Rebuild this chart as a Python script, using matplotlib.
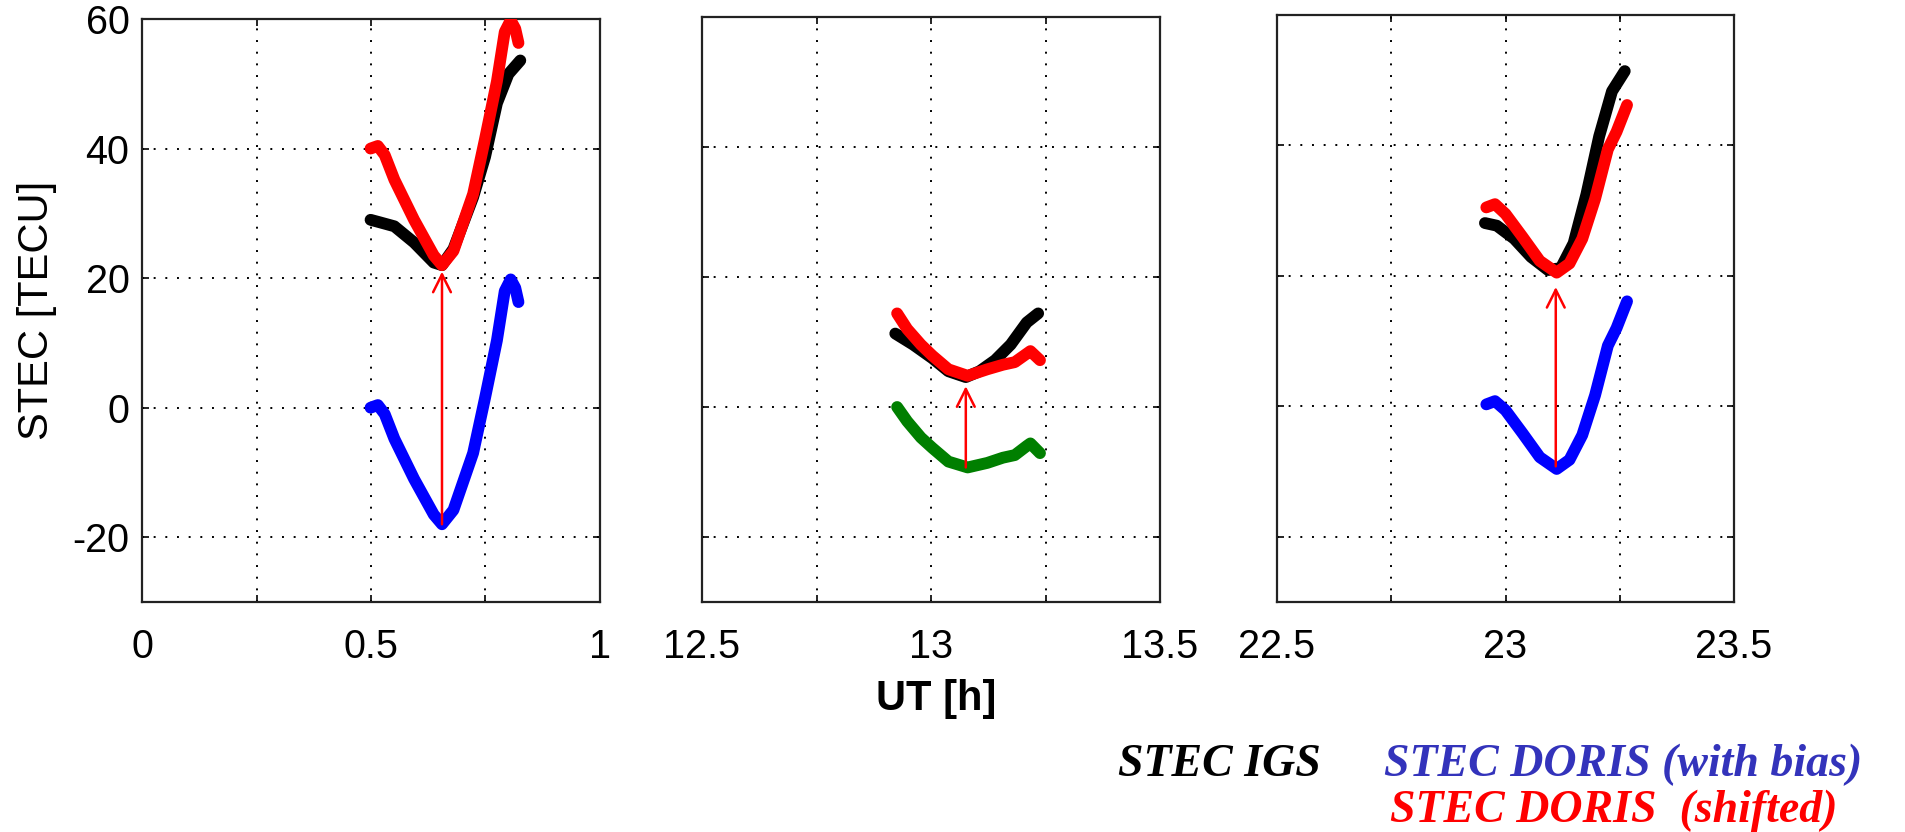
import numpy as np
import matplotlib
matplotlib.use('Agg')
import matplotlib.pyplot as plt

plt.rcParams['font.family'] = ['Liberation Sans', 'DejaVu Sans']

# pass 1: around 0.5 - 0.8 UT
ut1_igs = [0.499, 0.520, 0.551, 0.594, 0.637, 0.655, 0.680, 0.723, 0.749, 0.775, 0.800, 0.826]
stec1_igs = [29.0, 28.6, 28.0, 25.5, 22.4, 22.0, 24.5, 32.5, 38.7, 47.0, 51.5, 53.6]
ut1_doris = [0.499, 0.515, 0.530, 0.551, 0.594, 0.637, 0.655, 0.680, 0.723, 0.749, 0.775, 0.792, 0.805, 0.815, 0.822]
stec1_bias = [0.0, 0.4, -1.0, -4.8, -11.0, -16.5, -18.0, -15.8, -7.0, 1.5, 10.4, 18.0, 19.8, 18.5, 16.3]
stec1_shift = [40.0, 40.4, 39.0, 35.2, 29.0, 23.5, 22.0, 24.2, 33.0, 41.5, 50.4, 58.0, 59.8, 58.5, 56.3]
arrow1 = (0.655, -18.0, 21.0)

# pass 2: around 13 UT
ut2_igs = [12.922, 12.961, 13.003, 13.038, 13.076, 13.106, 13.140, 13.174, 13.209, 13.234]
stec2_igs = [11.3, 9.6, 7.5, 5.5, 4.6, 5.5, 7.2, 9.6, 13.0, 14.4]
ut2_doris = [12.926, 12.948, 12.978, 13.003, 13.038, 13.080, 13.123, 13.157, 13.183, 13.209, 13.217, 13.238]
stec2_bias = [0.0, -2.2, -4.7, -6.3, -8.4, -9.3, -8.6, -7.8, -7.4, -6.0, -5.6, -7.1]
stec2_shift = [14.4, 12.0, 9.6, 7.9, 5.8, 4.8, 5.8, 6.5, 6.9, 8.2, 8.6, 7.2]
arrow2 = (13.076, -9.3, 3.2)

# pass 3: around 23 UT
ut3_igs = [22.955, 22.981, 23.019, 23.056, 23.093, 23.121, 23.149, 23.177, 23.205, 23.233, 23.261]
stec3_igs = [28.1, 27.7, 25.7, 22.9, 20.9, 21.2, 25.0, 32.5, 41.4, 48.3, 51.4]
ut3_doris = [22.958, 22.977, 23.000, 23.037, 23.075, 23.112, 23.140, 23.168, 23.196, 23.224, 23.243, 23.266]
stec3_bias = [0.3, 0.8, -0.6, -4.1, -7.8, -9.6, -8.2, -4.4, 1.7, 9.3, 12.0, 16.1]
stec3_shift = [30.5, 31.0, 29.5, 26.0, 22.3, 20.5, 21.9, 25.7, 31.8, 39.4, 42.1, 46.2]
arrow3 = (23.11, -9.2, 18.3)

xlims = [(0, 1), (12.5, 13.5), (22.5, 23.5)]
xtick_labels = [['0', '', '0.5', '', '1'],
                ['12.5', '', '13', '', '13.5'],
                ['22.5', '', '23', '', '23.5']]
yticks = [-20, 0, 20, 40, 60]

passes = [
    (ut1_igs, stec1_igs, ut1_doris, stec1_bias, stec1_shift, 'blue', arrow1),
    (ut2_igs, stec2_igs, ut2_doris, stec2_bias, stec2_shift, 'green', arrow2),
    (ut3_igs, stec3_igs, ut3_doris, stec3_bias, stec3_shift, 'blue', arrow3),
]

W, H = 1906, 832
fig = plt.figure(figsize=(W / 100, H / 100), dpi=100)

# axes boxes in pixels: left, top, right, bottom
boxes = [(142, 19, 600, 602), (702, 17, 1160, 602), (1277, 15, 1734, 602)]

bias_colors = {'blue': '#0000ff', 'green': '#007f00'}
lw = 8.5

for i, (box, p) in enumerate(zip(boxes, passes)):
    l, t, r, b = box
    ax = fig.add_axes([l / W, (H - b) / H, (r - l) / W, (b - t) / H])
    ut_i, s_i, ut_d, s_b, s_s, bc, arr = p

    style = dict(lw=lw, solid_capstyle='round', solid_joinstyle='round')
    ax.plot(ut_i, s_i, color='black', zorder=3, **style)
    ax.plot(ut_d, s_b, color=bias_colors[bc], zorder=3, **style)
    ax.plot(ut_d, s_s, color='#ff0000', zorder=4, **style)

    xa, y0, y1 = arr
    ax.annotate('', xy=(xa, y1), xytext=(xa, y0),
                arrowprops=dict(arrowstyle='->', color='#ff0000', lw=1.8,
                                mutation_scale=32, shrinkA=0, shrinkB=0),
                zorder=5)

    x0, x1 = xlims[i]
    ax.set_xlim(x0, x1)
    ax.set_ylim(-30, 60)
    ax.set_xticks(np.linspace(x0, x1, 5))
    ax.set_xticklabels(xtick_labels[i])
    ax.set_yticks(yticks)
    if i == 0:
        ax.set_yticklabels([str(v) for v in yticks])
    else:
        ax.set_yticklabels([])

    ax.grid(True, linestyle=(0, (1, 5)), color='black', linewidth=1.4)
    ax.set_axisbelow(True)
    ax.tick_params(direction='in', length=5, width=1.2, top=True, right=True,
                   labelsize=28.5, colors='black')
    ax.tick_params(axis='x', pad=19)
    ax.tick_params(axis='y', pad=9)
    for sp in ax.spines.values():
        sp.set_linewidth(1.6)
        sp.set_color('#222222')

fig.text(37 / W, 1 - 310 / H, 'STEC [TECU]', rotation=90, ha='center', va='center', fontsize=30)
fig.text(936 / W, 1 - 699 / H, 'UT [h]', ha='center', va='center', fontsize=30, fontweight='bold')

serif = dict(family='Liberation Serif', fontweight='bold', fontstyle='italic', fontsize=33)
fig.text(1118 / W, 1 - 776 / H, 'STEC IGS', color='black', ha='left', va='baseline', **serif)
fig.text(1384 / W, 1 - 776 / H, 'STEC DORIS (with bias)', color='#3333bb', ha='left', va='baseline', **serif)
fig.text(1390 / W, 1 - 822 / H, 'STEC DORIS  (shifted)', color='#ff0000', ha='left', va='baseline', **serif)

fig.savefig('out.png', dpi=100)
